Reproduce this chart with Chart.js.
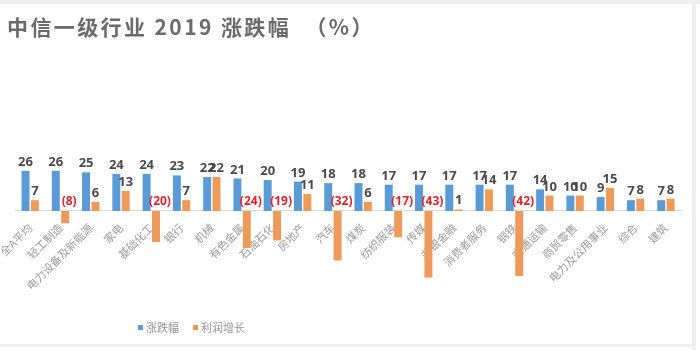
<!DOCTYPE html>
<html lang="zh">
<head>
<meta charset="UTF-8">
<title>中信一级行业 2019 涨跌幅</title>
<script src="https://cdn.jsdelivr.net/npm/chart.js"></script>
<style>
  body { margin: 0; background: #fff; font-family: "Noto Sans CJK SC", "Noto Sans", sans-serif; }
  #wrap { position: relative; width: 700px; height: 350px; overflow: hidden; }
  #topband { position: absolute; left: 0; top: 0; width: 700px; height: 4px; background: #efefef; }
  #rightband { position: absolute; left: 692px; top: 0; width: 4px; height: 350px; background: #efefef; }
  #bottomband { position: absolute; left: 0; top: 344px; width: 696px; height: 3px; background: #efefef; }
  #chartBox { position: absolute; left: 0; top: 0; width: 700px; height: 350px; }
  #title { position: absolute; left: 7px; top: 13px; font-size: 21px; font-weight: bold; color: #6b6b6b;
           letter-spacing: 2.4px; white-space: pre; line-height: 26px; }
  #legend { position: absolute; left: 138px; top: 319px; font-size: 11px; color: #959595; display: flex; align-items: center; }
  #legend span.sw { display: inline-block; width: 5px; height: 5px; margin-right: 3px; }
  #legend span.item { margin-right: 14px; display: flex; align-items: center; }
</style>
</head>
<body>
<div id="wrap">
  <div id="chartBox"><canvas id="industryChart" width="700" height="350"></canvas></div>
  <div id="title">中信一级行业 2019 涨跌幅  （%）</div>
  <div id="topband"></div>
  <div id="rightband"></div>
  <div id="bottomband"></div>
  <div id="legend">
    <span class="item"><span class="sw" style="background:#5b9bd5"></span>涨跌幅</span>
    <span class="item"><span class="sw" style="background:#ed9a5a"></span>利润增长</span>
  </div>
</div>
<script>
// industries as shown (left edge of the original is cropped)
const industries = ['全A平均', '轻工制造', '电力设备及新能源', '家电', '基础化工', '银行', '机械', '有色金属',
  '石油石化', '房地产', '汽车', '煤炭', '纺织服装', '传媒', '非银金融', '消费者服务', '钢铁',
  '交通运输', '商贸零售', '电力及公用事业', '综合', '建筑'];
// 2019 price change, %
const priceChange = [26, 26, 25, 24, 24, 23, 22, 21, 20, 19, 18, 18, 17, 17, 17, 17, 17, 14, 10, 9, 7, 7];
// profit growth, %
const profitGrowth = [7, -8, 6, 13, -20, 7, 22, -24, -19, 11, -32, 6, -17, -43, 1, 14, -42, 10, 10, 15, 8, 8];

const blue = '#5b9bd5';
const orange = '#ed9a5a';

// value labels: plain numbers above positive bars, red (n) just above the axis for negatives
const valueLabels = {
  id: 'valueLabels',
  afterDatasetsDraw(chart) {
    const ctx = chart.ctx;
    const zeroY = chart.scales.y.getPixelForValue(0);
    ctx.save();
    ctx.textAlign = 'center';
    ctx.textBaseline = 'alphabetic';
    chart.data.datasets.forEach((ds, i) => {
      chart.getDatasetMeta(i).data.forEach((bar, j) => {
        const v = ds.data[j];
        if (v >= 0) {
          ctx.font = 'bold 13px "Noto Sans", sans-serif';
          ctx.fillStyle = '#4a4a4a';
          ctx.fillText(String(v), bar.x, bar.y - 5);
        } else {
          ctx.font = 'bold 12px "Noto Sans", sans-serif';
          ctx.fillStyle = '#d9262e';
          ctx.fillText('(' + Math.abs(v) + ')', bar.x + 4, zeroY - 6);
        }
      });
    });
    ctx.restore();
  }
};

new Chart(document.getElementById('industryChart'), {
  type: 'bar',
  data: {
    labels: industries,
    datasets: [
      { label: '涨跌幅', data: priceChange, backgroundColor: blue, categoryPercentage: 0.62, barPercentage: 0.85 },
      { label: '利润增长', data: profitGrowth, backgroundColor: orange, categoryPercentage: 0.62, barPercentage: 0.85 }
    ]
  },
  options: {
    responsive: false,
    animation: false,
    layout: { padding: { left: 7, right: 19, top: 47, bottom: 40 } },
    plugins: {
      legend: { display: false },
      tooltip: { enabled: false }
    },
    scales: {
      x: {
        position: { y: 0 },
        grid: { display: false },
        border: { display: true, color: '#d9d9d9', width: 1 },
        ticks: {
          autoSkip: false,
          minRotation: 45,
          maxRotation: 45,
          padding: 2,
          color: '#9a9a9a',
          font: { size: 11, family: '"Noto Sans CJK SC", sans-serif' }
        }
      },
      y: {
        display: false,
        min: -64,
        max: 106
      }
    }
  },
  plugins: [valueLabels]
});
</script>
</body>
</html>
